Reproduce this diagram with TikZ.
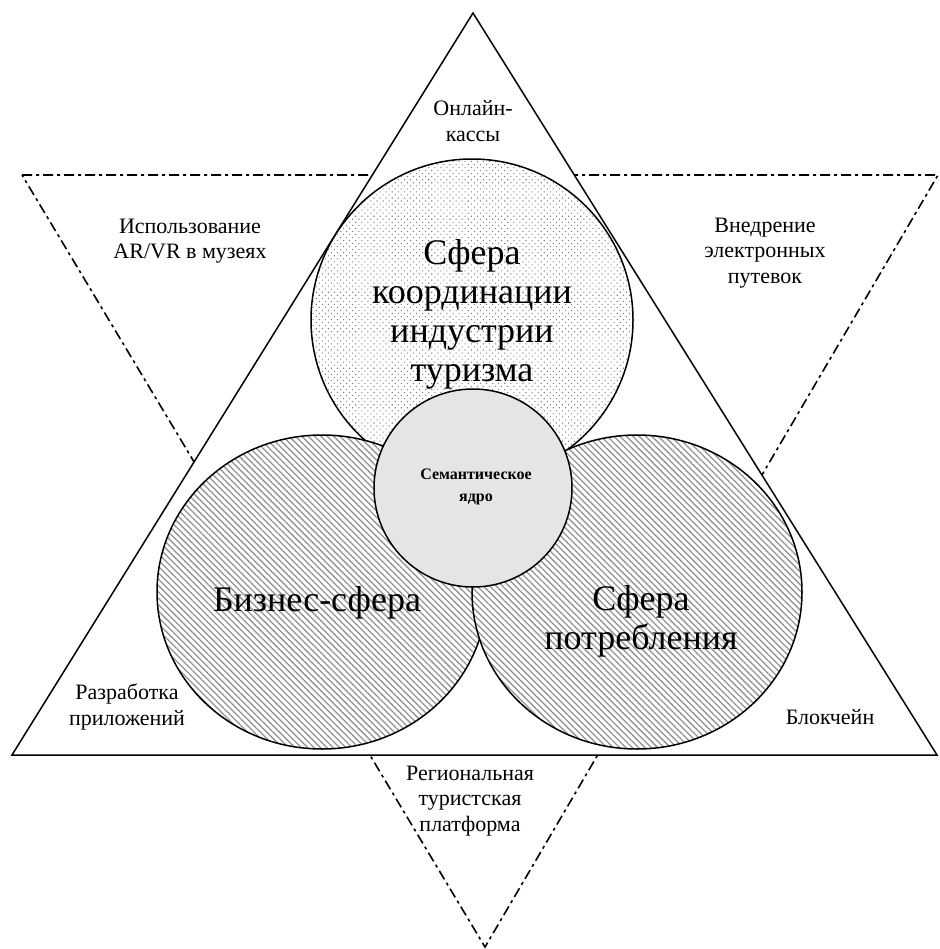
\documentclass[tikz,border=0pt]{standalone}
\usepackage{fontspec}
\setmainfont{Liberation Serif}
\usetikzlibrary{patterns.meta}
\begin{document}
\begin{tikzpicture}[x=1pt,y=1pt,
  solidline/.style={line width=1.5pt, line join=miter},
  dashline/.style={line width=1.6pt, dash pattern=on 10pt off 4pt on 3pt off 4pt},
  rim/.style={line width=1.5pt},
  dotfill/.style={pattern={Dots[distance=4.3pt, angle=45, radius=0.75pt]}, pattern color=gray},
  hatchfill/.style={pattern={Lines[angle=-45, distance=4.5pt, line width=1.3pt]}, pattern color=gray!85},
  lbl/.style={font=\fontsize{22}{25.5}\selectfont, align=center, inner sep=0pt},
  big/.style={font=\fontsize{36}{39}\selectfont, align=center, inner sep=0pt},
  core/.style={font=\bfseries\fontsize{16}{22}\selectfont, align=center, inner sep=0pt}]
\useasboundingbox (0,0) rectangle (939,-949);
% dash-dot downward triangle
\coordinate (d1) at (22,-175);
\coordinate (d2) at (938,-175);
\coordinate (d3) at (485,-947);
\draw[dashline] (d1) -- (d2) -- (d3) -- cycle;
% solid upward triangle
\coordinate (u1) at (473,-13);
\coordinate (u2) at (12,-755);
\coordinate (u3) at (937,-755);
\filldraw[solidline, fill=white] (u1) -- (u2) -- (u3) -- cycle;
% circles
\fill[white] (472,-320) circle [radius=161];
\draw[rim, dotfill] (472,-320) circle [radius=161];
\fill[white] (322,-592) ellipse [x radius=165, y radius=157];
\draw[rim, hatchfill] (322,-592) ellipse [x radius=165, y radius=157];
\fill[white] (637,-592) ellipse [x radius=165, y radius=157];
\draw[rim, hatchfill] (637,-592) ellipse [x radius=165, y radius=157];
\filldraw[rim, fill=black!10] (473,-488) circle [radius=99];
% labels
\node[lbl] (online) at (473,-121) {Онлайн-\\кассы};
\node[lbl] (arvr) at (190,-241) {Использование\\AR/VR в музеях};
\node[lbl] (vnedr) at (765,-253) {Внедрение\\электронных\\путевок};
\node[big] (coord) at (472,-314) {Сфера\\координации\\индустрии\\туризма};
\node[core] (sem) at (476,-487) {Семантическое\\ядро};
\node[big] (biz) at (317,-603) {Бизнес-сфера};
\node[big] (potr) at (641,-621) {Сфера\\потребления};
\node[lbl] (razr) at (127,-707) {Разработка\\приложений};
\node[lbl] (block) at (830,-717) {Блокчейн};
\node[lbl] (region) at (470,-801) {Региональная\\туристская\\платформа};
\end{tikzpicture}
\end{document}
